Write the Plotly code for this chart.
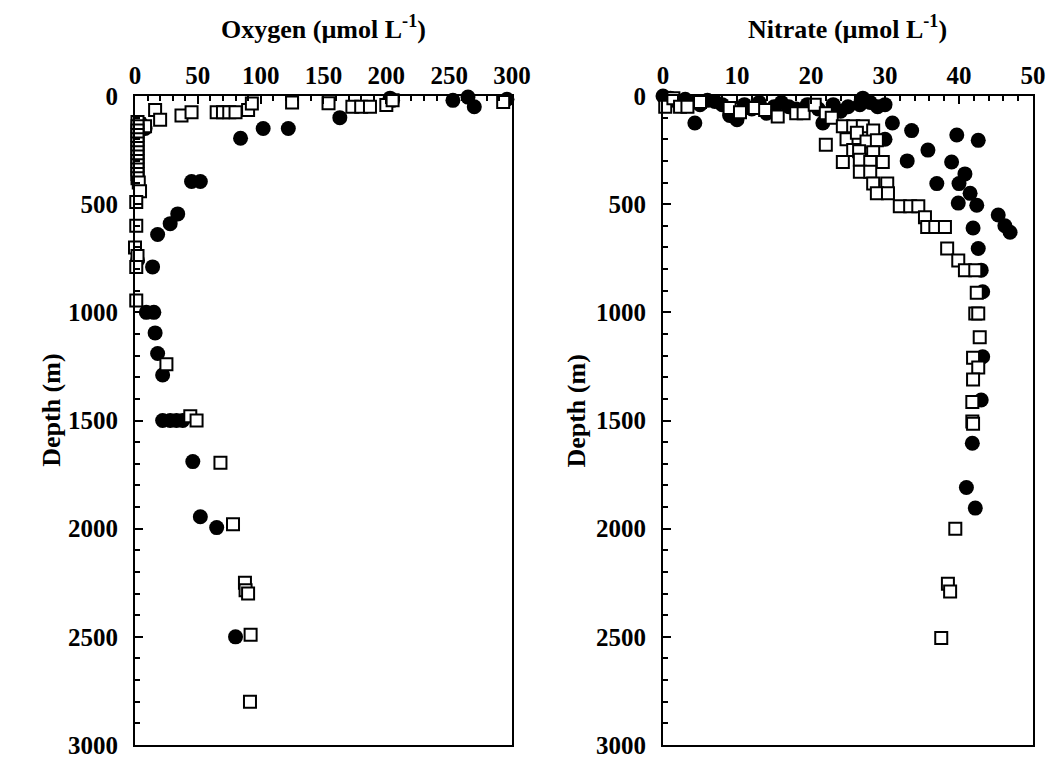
import plotly.graph_objects as go

# ---------------- data ----------------
# Oxygen panel: filled circles (O2 umol/L, depth m)
ox_circ_o2 = [203, 205, 253, 265, 270, 296, 163, 84, 102, 122, 45, 52, 34, 28, 18, 5, 8,
              2, 14, 9, 15, 16, 18, 22, 22, 28, 33, 38, 46, 52, 65, 80]
ox_circ_z = [10, 20, 20, 5, 50, 15, 100, 195, 150, 150, 395, 395, 545, 590, 640, 130, 150,
             760, 790, 1000, 1000, 1095, 1190, 1290, 1500, 1500, 1500, 1500, 1690, 1945, 1995, 2500]
# Oxygen panel: open squares
ox_sq_o2 = [16, 20, 37, 45, 65, 70, 75, 80, 90, 93, 125, 154, 173, 180, 187, 200, 205, 293,
            3, 8, 2, 2, 2, 2, 2, 2, 2, 2, 2, 2, 2, 2, 2, 2, 3, 4, 1, 1, 0, 2, 1, 1,
            25, 44, 49, 68, 78, 87.5, 88, 90, 92, 91.5]
ox_sq_z = [65, 110, 90, 75, 75, 75, 75, 75, 65, 35, 30, 33, 50, 50, 50, 42, 20, 28,
           130, 140, 120, 140, 160, 180, 200, 220, 240, 260, 280, 300, 320, 340, 360, 380, 400, 440, 490, 600, 700, 740, 790, 945,
           1240, 1480, 1500, 1695, 1980, 2250, 2285, 2300, 2490, 2800]

# Nitrate panel: filled circles
ni_circ_n = [0, 1, 3, 6, 8, 9, 10, 13, 14, 17, 19.5, 21, 21.6, 25, 26.6, 27, 28, 29, 30, 31, 4.3,
             2, 5, 7, 11, 12, 15, 16, 18, 23, 24,
             30, 33.6, 35.8, 33, 39.7, 42.6, 39, 37, 40, 40.8, 41.5, 39.9, 42.4, 45.3, 46.2, 46.9,
             41.9, 42.6, 43, 43.2, 43.2, 43, 41.8, 41, 42.2]
ni_circ_z = [0, 10, 15, 20, 40, 90, 110, 30, 80, 50, 40, 60, 125, 50, 40, 10, 30, 50, 40, 125, 125,
             30, 40, 25, 40, 60, 50, 30, 60, 40, 70,
             200, 160, 250, 300, 180, 205, 305, 405, 405, 360, 450, 495, 505, 550, 600, 630,
             610, 705, 805, 905, 1205, 1405, 1605, 1810, 1905]
# Nitrate panel: open squares
ni_sq_n = [0.3, 1.4, 2.3, 3.3, 5, 9, 10.4, 12.4, 13.8, 15.5, 18, 19, 20.5, 22, 22.8, 22, 24.3, 25.7,
           27, 28.4, 24.8, 26.2, 27.5, 28.9, 25.7, 26.5, 28.4, 24.3, 26.6, 28, 29.7, 26.6, 28, 28.4,
           30.3, 28.9, 30.4, 32, 33.4, 34.5, 35.4, 35.7, 36.8, 38.1, 38.4, 39.9, 40.8, 42.2, 42.4,
           42.2, 42.6, 42.8, 41.9, 42.6, 41.9, 41.8, 41.8, 41.9, 39.5, 38.5, 38.8, 37.6]
ni_sq_z = [50, 10, 50, 50, 28, 55, 75, 55, 65, 95, 80, 80, 40, 80, 100, 225, 140, 140,
           140, 160, 200, 170, 210, 205, 250, 255, 260, 305, 295, 305, 305, 350, 350, 405,
           405, 450, 450, 510, 510, 510, 560, 605, 605, 605, 705, 760, 805, 805, 910,
           1005, 1005, 1115, 1210, 1255, 1310, 1415, 1505, 1515, 2000, 2255, 2290, 2505]

depth_ticks = [0, 500, 1000, 1500, 2000, 2500, 3000]

# ---------------- figure ----------------
FONT = "Liberation Serif"
fig = go.Figure()

circ = dict(symbol="circle", size=15, color="black", line=dict(width=0))
sq = dict(symbol="square", size=12, color="white", line=dict(color="black", width=2))

fig.add_trace(go.Scatter(x=ox_circ_o2, y=ox_circ_z, mode="markers", marker=circ,
                         xaxis="x", yaxis="y", cliponaxis=False, showlegend=False))
fig.add_trace(go.Scatter(x=ox_sq_o2, y=ox_sq_z, mode="markers", marker=sq,
                         xaxis="x", yaxis="y", cliponaxis=False, showlegend=False))
fig.add_trace(go.Scatter(x=ni_circ_n, y=ni_circ_z, mode="markers", marker=circ,
                         xaxis="x2", yaxis="y2", cliponaxis=False, showlegend=False))
fig.add_trace(go.Scatter(x=ni_sq_n, y=ni_sq_z, mode="markers", marker=sq,
                         xaxis="x2", yaxis="y2", cliponaxis=False, showlegend=False))

tickfont = dict(family=FONT, size=25, color="black", weight="bold")
titlefont = dict(family=FONT, size=26, color="black", weight="bold")

def xax(domain, rng, dt, mdt, anchor):
    return dict(domain=domain, range=rng, side="top", anchor=anchor, tickmode="linear",
                tick0=0, dtick=dt, ticks="inside", ticklen=8, tickwidth=1.5, tickcolor="black",
                minor=dict(dtick=mdt, ticks="inside", ticklen=5, tickwidth=1.5, tickcolor="black"),
                showline=True, linecolor="black", linewidth=2, mirror=True,
                showgrid=False, zeroline=False, tickfont=tickfont, ticklabelstandoff=0,
                ticklabeloverflow="allow")

def yax(anchor):
    return dict(range=[3000, 0], domain=[0, 1], anchor=anchor, tickmode="array", tickvals=depth_ticks,
                ticks="inside", ticklen=8, tickwidth=1.5, tickcolor="black",
                minor=dict(dtick=100, ticks="inside", ticklen=5, tickwidth=1.5, tickcolor="black"),
                showline=True, linecolor="black", linewidth=2, mirror=True,
                showgrid=False, zeroline=False, tickfont=tickfont, ticklabelstandoff=10,
                ticklabeloverflow="allow")

fig.update_layout(
    width=1050, height=750,
    margin=dict(l=127, r=25, t=88, b=13, autoexpand=False),
    paper_bgcolor="white", plot_bgcolor="white",
    xaxis=xax([0, 0.4198], [0, 300], 50, 10, "y"),
    yaxis=yax("x"),
    xaxis2=xax([0.588, 1.0], [0, 50], 10, 2, "y2"),
    yaxis2=yax("x2"),
    annotations=[
        dict(text="Oxygen (µmol L<sup>-1</sup>)", x=0.2094, y=1.105, xref="paper", yref="paper",
             showarrow=False, xanchor="center", yanchor="middle", font=titlefont),
        dict(text="Nitrate (µmol L<sup>-1</sup>)", x=0.7929, y=1.105, xref="paper", yref="paper",
             showarrow=False, xanchor="center", yanchor="middle", font=titlefont),
        dict(text="Depth (m)", x=-0.0924, y=0.515, xref="paper", yref="paper", textangle=-90,
             showarrow=False, xanchor="center", yanchor="middle", font=titlefont),
        dict(text="Depth (m)", x=0.492, y=0.515, xref="paper", yref="paper", textangle=-90,
             showarrow=False, xanchor="center", yanchor="middle", font=titlefont),
    ],
)

fig.write_html("out.html")
